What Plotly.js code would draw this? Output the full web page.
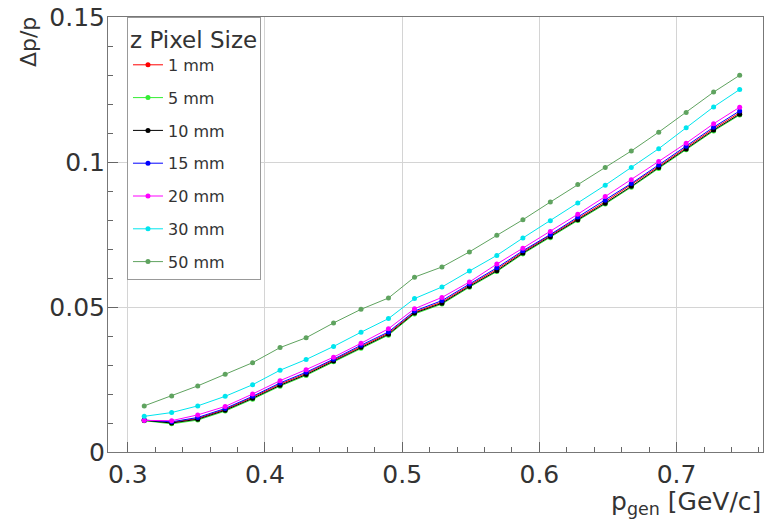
<!DOCTYPE html>
<html>
<head>
<meta charset="utf-8">
<script src="https://cdn.plot.ly/plotly-3.0.1.min.js"></script>
<style>html,body{margin:0;padding:0;background:#fff;}#chart{width:772px;height:520px;}</style>
</head>
<body>
<div id="chart"></div>
<script>
// p_gen values (GeV/c)
const pGen = [0.312, 0.332, 0.351, 0.371, 0.391, 0.411, 0.430, 0.450, 0.470, 0.490, 0.509, 0.529,
              0.549, 0.569, 0.588, 0.608, 0.628, 0.648, 0.667, 0.687, 0.707, 0.727, 0.746];

// Δp/p for each z pixel size
const res1mm  = [0.0110, 0.0102, 0.0116, 0.0147, 0.0189, 0.0234, 0.0271, 0.0317, 0.0364, 0.0410, 0.0482, 0.0517,
                 0.0575, 0.0630, 0.0690, 0.0746, 0.0805, 0.0863, 0.0921, 0.0985, 0.1050, 0.1115, 0.1170];
const res5mm  = [0.0108, 0.0097, 0.0110, 0.0141, 0.0182, 0.0227, 0.0264, 0.0311, 0.0358, 0.0403, 0.0476, 0.0510,
                 0.0568, 0.0622, 0.0683, 0.0739, 0.0798, 0.0855, 0.0913, 0.0978, 0.1042, 0.1107, 0.1162];
const res10mm = [0.0109, 0.0100, 0.0113, 0.0144, 0.0185, 0.0230, 0.0267, 0.0314, 0.0361, 0.0406, 0.0479, 0.0513,
                 0.0571, 0.0625, 0.0686, 0.0742, 0.0801, 0.0858, 0.0916, 0.0981, 0.1045, 0.1110, 0.1165];
const res15mm = [0.0110, 0.0104, 0.0119, 0.0150, 0.0192, 0.0238, 0.0275, 0.0320, 0.0368, 0.0414, 0.0486, 0.0522,
                 0.0579, 0.0635, 0.0694, 0.0750, 0.0810, 0.0868, 0.0926, 0.0990, 0.1054, 0.1120, 0.1176];
const res20mm = [0.0109, 0.0108, 0.0128, 0.0157, 0.0200, 0.0246, 0.0284, 0.0327, 0.0375, 0.0425, 0.0494, 0.0533,
                 0.0586, 0.0648, 0.0703, 0.0760, 0.0820, 0.0881, 0.0939, 0.1002, 0.1065, 0.1132, 0.1189];
const res30mm = [0.0123, 0.0136, 0.0159, 0.0192, 0.0232, 0.0282, 0.0319, 0.0364, 0.0413, 0.0460, 0.0529, 0.0569,
                 0.0624, 0.0678, 0.0738, 0.0797, 0.0859, 0.0920, 0.0981, 0.1046, 0.1118, 0.1190, 0.1250];
const res50mm = [0.0159, 0.0193, 0.0228, 0.0268, 0.0308, 0.0360, 0.0394, 0.0445, 0.0492, 0.0531, 0.0603, 0.0638,
                 0.0690, 0.0747, 0.0801, 0.0862, 0.0922, 0.0981, 0.1038, 0.1103, 0.1171, 0.1241, 0.1299];

const seriesNames = ['1 mm', '5 mm', '10 mm', '15 mm', '20 mm', '30 mm', '50 mm'];
const seriesData = [res1mm, res5mm, res10mm, res15mm, res20mm, res30mm, res50mm];
const seriesColors = ['#ff0000', '#33ee33', '#000000', '#0000ff', '#ff00ff', '#00e5ee', '#5fa35f'];

const FONT = 'DejaVu Sans, Verdana, sans-serif';
const TXT = '#333333';

const traces = seriesNames.map((name, i) => ({
  type: 'scatter',
  mode: 'lines+markers',
  name: name,
  legendgroup: 'g' + i,
  x: pGen,
  y: seriesData[i],
  line: {color: seriesColors[i], width: 1},
  marker: {color: seriesColors[i], size: 5, symbol: 'circle'}
}));

const layout = {
  width: 772,
  height: 520,
  margin: {l: 108, r: 9, t: 17, b: 68},
  paper_bgcolor: '#ffffff',
  plot_bgcolor: '#ffffff',
  font: {family: FONT, color: TXT, size: 22},
  showlegend: true,
  legend: {
    x: 0.029, y: 1, xanchor: 'left', yanchor: 'top',
    bgcolor: '#ffffff', bordercolor: '#999999', borderwidth: 1,
    font: {family: FONT, size: 16, color: TXT},
    title: {text: 'z Pixel Size', font: {family: FONT, size: 23, color: TXT}},
    traceorder: 'grouped',
    tracegroupgap: 9,
    itemwidth: 30
  },
  xaxis: {
    range: [0.2856, 0.763],
    tick0: 0.3, dtick: 0.1,
    ticks: 'inside', ticklen: 10, tickcolor: '#666666', tickwidth: 1,
    minor: {dtick: 0.02, ticks: 'inside', ticklen: 5, tickcolor: '#666666', showgrid: false},
    showgrid: true, gridcolor: '#d4d4d4', gridwidth: 1,
    showline: true, linecolor: '#777777', linewidth: 1, mirror: true,
    zeroline: false,
    tickfont: {family: FONT, size: 25, color: TXT},
    tickformat: '.1f'
  },
  yaxis: {
    range: [0, 0.15],
    tick0: 0, dtick: 0.05,
    ticks: 'inside', ticklen: 10, tickcolor: '#666666', tickwidth: 1,
    minor: {dtick: 0.01, ticks: 'inside', ticklen: 5, tickcolor: '#666666', showgrid: false},
    showgrid: true, gridcolor: '#d4d4d4', gridwidth: 1,
    showline: true, linecolor: '#777777', linewidth: 1, mirror: true,
    zeroline: false,
    tickfont: {family: FONT, size: 25, color: TXT},
    ticklabelstandoff: -3
  },
  annotations: [
    {
      text: 'Δp/p', xref: 'paper', yref: 'paper',
      x: -0.122, y: 0.9425, xanchor: 'center', yanchor: 'middle',
      textangle: -90, showarrow: false,
      font: {family: FONT, size: 22, color: TXT}
    },
    {
      text: 'p<sub>gen</sub> [GeV/c]', xref: 'paper', yref: 'paper',
      x: 1.0, y: -0.118, xanchor: 'right', yanchor: 'middle',
      showarrow: false,
      font: {family: FONT, size: 25, color: TXT}
    }
  ]
};

Plotly.newPlot('chart', traces, layout, {displayModeBar: false, staticPlot: true});
</script>
</body>
</html>
